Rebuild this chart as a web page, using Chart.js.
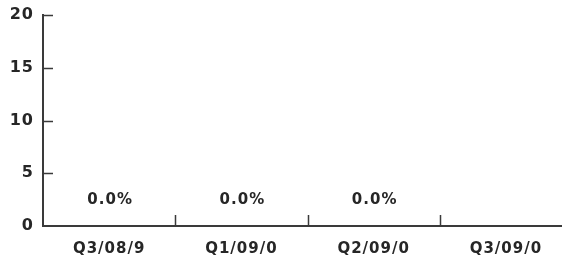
<!DOCTYPE html>
<html>
<head>
<meta charset="utf-8">
<script src="https://cdn.jsdelivr.net/npm/chart.js@4"></script>
<style>
  html, body { margin: 0; padding: 0; background: #fff; overflow: hidden; }
  #wrap { width: 572px; height: 259px; }
</style>
</head>
<body>
<div id="wrap"><canvas id="chart" width="572" height="259"></canvas></div>
<script>
// Chart data
const categories = ['Q3/08/9', 'Q1/09/0', 'Q2/09/0', 'Q3/09/0'];
const values = [0, 0, 0, null];
const yTicks = [0, 5, 10, 15, 20];

const axisColor = '#3a3a3a';
const textColor = '#262626';
const fontFamily = '"DejaVu Sans", Verdana, sans-serif';

// a bit of letter spacing, like the original's label font
const spacing = {
    id: 'spacing',
    beforeDraw(chart) {
        chart.ctx.letterSpacing = '1px';
    }
};

// draws small tick marks inside the plot, plus the value labels
const innerTicks = {
    id: 'innerTicks',
    afterDraw(chart) {
        const ctx = chart.ctx;
        const x = chart.scales.x;
        const y = chart.scales.y;
        ctx.save();
        ctx.strokeStyle = axisColor;
        ctx.lineWidth = 1.5;
        ctx.beginPath();
        yTicks.forEach(function(v) {
            if (v === 0) return;
            const py = Math.round(y.getPixelForValue(v)) + 0.5;
            ctx.moveTo(y.right, py);
            ctx.lineTo(y.right + 10, py);
        });
        for (let i = 1; i < categories.length; i++) {
            const px = Math.round((x.getPixelForValue(i - 1) + x.getPixelForValue(i)) / 2) + 0.5;
            ctx.moveTo(px, x.top);
            ctx.lineTo(px, x.top - 11);
        }
        ctx.stroke();

        ctx.fillStyle = textColor;
        ctx.letterSpacing = '1px';
        ctx.font = 'bold 15px ' + fontFamily;
        ctx.textAlign = 'center';
        ctx.textBaseline = 'middle';
        const meta = chart.getDatasetMeta(0);
        meta.data.forEach(function(bar, i) {
            if (values[i] === null) return;
            ctx.fillText(values[i].toFixed(1) + '%', bar.x + 1, bar.y - 26);
        });
        ctx.restore();
    }
};

new Chart(document.getElementById('chart').getContext('2d'), {
    type: 'bar',
    data: {
        labels: categories,
        datasets: [{
            data: values,
            backgroundColor: '#4a6fa5',
            borderWidth: 0
        }]
    },
    options: {
        responsive: false,
        animation: false,
        layout: { padding: { top: 15, right: 0, left: 0, bottom: 0 } },
        plugins: {
            legend: { display: false },
            tooltip: { enabled: false }
        },
        scales: {
            x: {
                grid: { display: false, drawTicks: false },
                border: { color: axisColor, width: 2 },
                ticks: {
                    color: textColor,
                    padding: 14,
                    maxRotation: 0,
                    font: { family: fontFamily, size: 15, weight: 'bold' }
                },
                afterFit(scale) { scale.height = 33; }
            },
            y: {
                min: 0,
                max: 20,
                afterBuildTicks(scale) { scale.ticks = yTicks.map(v => ({ value: v })); },
                grid: { display: false, drawTicks: false },
                border: { color: axisColor, width: 2 },
                ticks: {
                    color: textColor,
                    padding: 9,
                    font: { family: fontFamily, size: 16, weight: 'bold' }
                },
                afterFit(scale) {
                    scale.width = 43;
                    scale.paddingTop = 0;
                }
            }
        }
    },
    plugins: [spacing, innerTicks]
});
</script>
</body>
</html>
